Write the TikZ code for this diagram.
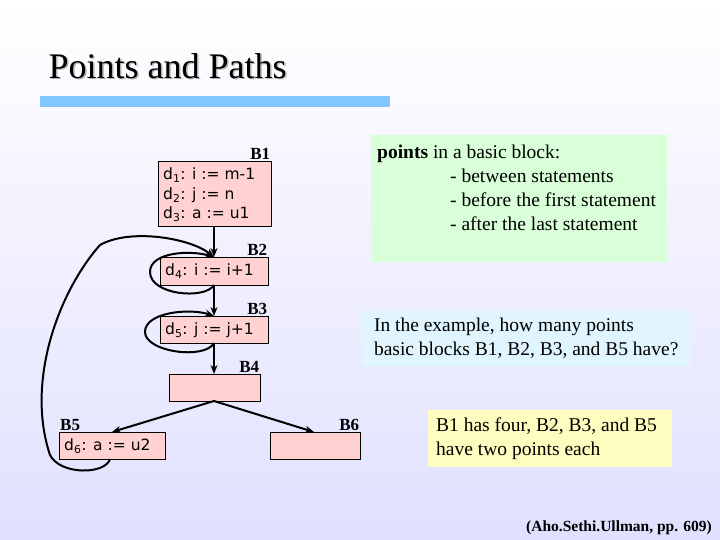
\documentclass[tikz,border=0pt]{standalone}
\usepackage{fontspec}
\setmainfont{Liberation Serif}
\newfontfamily\codefont{DejaVu Sans}
\usetikzlibrary{arrows.meta}
\begin{document}
\begin{tikzpicture}[x=1pt,y=-1pt,
  blk/.style={draw,fill=red!18,anchor=north west,inner sep=0},
  code/.style={font=\codefont\fontsize{15.5}{17}\selectfont,anchor=west,inner sep=0},
  lab/.style={font=\fontsize{17}{19}\selectfont\bfseries,anchor=south east,inner sep=1},
  arr/.style={-{Stealth[length=9pt,width=7pt]},line width=2pt},
  txt/.style={font=\fontsize{19.5}{24}\selectfont,inner sep=0}]
\shade[top color=white,bottom color=blue!12] (0,0) rectangle (720,540);
\useasboundingbox (0,0) rectangle (720,540);
\node (shadow)[font=\fontsize{36}{40}\selectfont,text=gray!60,anchor=west] at (46.5,67.5) {Points and Paths};
\node (title)[font=\fontsize{36}{40}\selectfont,anchor=west] at (45,66) {Points and Paths};
\fill[blue!45!cyan!50] (40,96) rectangle (390,107);
% blocks
\node (b1)[blk,minimum width=113,minimum height=65] at (158,161) {};
\node (b2)[blk,minimum width=108,minimum height=28] at (160,257) {};
\node (b3)[blk,minimum width=108,minimum height=27] at (160,316) {};
\node (b4)[blk,minimum width=91,minimum height=27] at (169,374) {};
\node (b5)[blk,minimum width=106,minimum height=27] at (59,432) {};
\node (b6)[blk,minimum width=90,minimum height=27] at (270,432) {};
\node (c1)[code] at (163,175) {d\textsubscript{1}: i := m-1};
\node (c2)[code] at (163,195) {d\textsubscript{2}: j := n};
\node (c3)[code] at (163,214) {d\textsubscript{3}: a := u1};
\node (c4)[code] at (165,271) {d\textsubscript{4}: i := i+1};
\node (c5)[code] at (165,330) {d\textsubscript{5}: j := j+1};
\node (c6)[code] at (64,446) {d\textsubscript{6}: a := u2};
\node (l1)[lab] at (b1.north east) {B1};
\node (l2)[lab] at (b2.north east) {B2};
\node (l3)[lab] at (b3.north east) {B3};
\node (l4)[lab] at (b4.north east) {B4};
\node (l5)[lab,anchor=south west] at (b5.north west) {B5};
\node (l6)[lab] at (b6.north east) {B6};
% edges
\coordinate (b1s) at (214,226);
\coordinate (b2n) at (214,257);
\coordinate (b2s) at (214,285);
\coordinate (b3n) at (214,316);
\coordinate (b3s) at (214,343);
\coordinate (b4n) at (214,374);
\coordinate (b4s) at (214,401);
\coordinate (b5n) at (112,432);
\coordinate (b6n) at (314,432);
\coordinate (b5s) at (110,459);
\draw[arr] (b1s) -- (b2n);
\draw[arr] (b2s) -- (b3n);
\draw[arr] (b3s) -- (b4n);
\draw[arr] (b4s) -- (b5n);
\draw[arr] (b4s) -- (b6n);
\draw[arr] (b2s) .. controls (205,300) and (150,295) .. (150,272) .. controls (150,252) and (190,250) .. (b2n);
\draw[arr] (b3s) .. controls (205,360) and (145,352) .. (145,332) .. controls (145,312) and (190,308) .. (b3n);
\draw[arr] (b5s) .. controls (105,475) and (60,475) .. (50,455) .. controls (25,380) and (60,290) .. (100,245) .. controls (130,228) and (190,238) .. (b2n);
% text boxes
\node (g)[fill=green!15,anchor=north west,minimum width=296,minimum height=127] at (371,135) {};
\node (gt)[txt,anchor=north west,align=left] at (377,145) {\textbf{points} in a basic block:\\
\hspace*{73pt}- between statements\\
\hspace*{73pt}- before the first statement\\
\hspace*{73pt}- after the last statement};
\node (q)[fill=cyan!12,anchor=north west,minimum width=328,minimum height=55] at (362,311) {};
\node (qt)[txt,align=left] at (q.center) {In the example, how many points\\basic blocks B1, B2, B3, and B5 have?};
\node (a)[fill=yellow!25,anchor=north west,minimum width=244,minimum height=57] at (428,410) {};
\node (at)[txt,anchor=west,align=left] at (436,438.5) {B1 has four, B2, B3, and B5\\have two points each};
\node (cite)[font=\fontsize{15.5}{17}\selectfont\bfseries,anchor=south east,inner sep=0] at (712,535) {(Aho.Sethi.Ullman, pp. 609)};
\end{tikzpicture}
\end{document}
